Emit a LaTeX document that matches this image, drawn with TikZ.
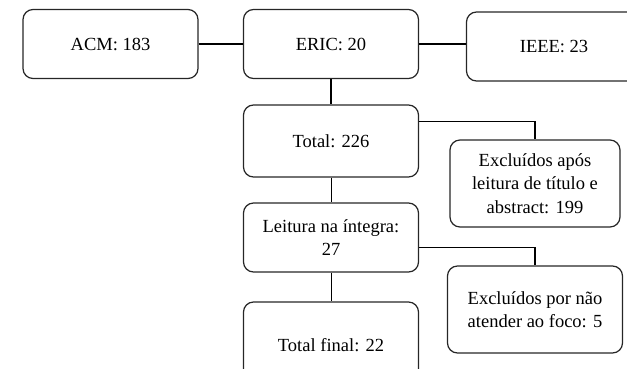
\documentclass[tikz,border=0pt]{standalone}
\usepackage{fontspec}
\setmainfont{Liberation Serif}
\begin{document}
\begin{tikzpicture}[x=1pt, y=-1pt,
    box/.style={draw=black!85, line width=1.2pt, rounded corners=10pt, minimum width=175pt, minimum height=69pt, align=center, inner sep=0pt, font=\fontsize{18.5}{23.5}\selectfont},
    tallbox/.style={box, minimum height=87pt},
    link/.style={line width=1.5pt},
    thinlink/.style={line width=0.8pt}]
    % Page frame
    \useasboundingbox (0,0) rectangle (627,368);
    \clip (0,0) rectangle (627,368);

    % Databases
    \node[box] (acm) at (110.5, 44) {ACM: 183};
    \node[box] (eric) at (331, 44) {ERIC: 20};
    \node[box] (ieee) at (554, 46.5) {IEEE: 23};

    % Screening steps
    \node[box, minimum height=72pt] (total) at (331, 141) {Total: 226};
    \node[box] (leitura) at (331, 237.5) {Leitura na íntegra:\\27};
    \node[tallbox] (final) at (331, 345.5) {Total final: 22};

    % Exclusions
    \node[tallbox, minimum width=170pt] (exc1) at (535, 183.5) {Excluídos após\\leitura de título e\\abstract: 199};
    \node[tallbox] (exc2) at (535, 309.5) {Excluídos por não\\atender ao foco: 5};

    % Connectors
    \draw[link] (acm.east) -- (eric.west);
    \draw[link] (eric.east) -- (eric.east -| ieee.west);
    \draw[link] (eric.south) -- (total.north);
    \draw[link] ([yshift=-17pt]total.north east) -| (exc1.north);
    \draw[thinlink] (total.south) -- (leitura.north);
    \draw[link] ([yshift=-10pt]leitura.east) -| (exc2.north);
    \draw[thinlink] (leitura.south) -- (final.north);
\end{tikzpicture}
\end{document}
